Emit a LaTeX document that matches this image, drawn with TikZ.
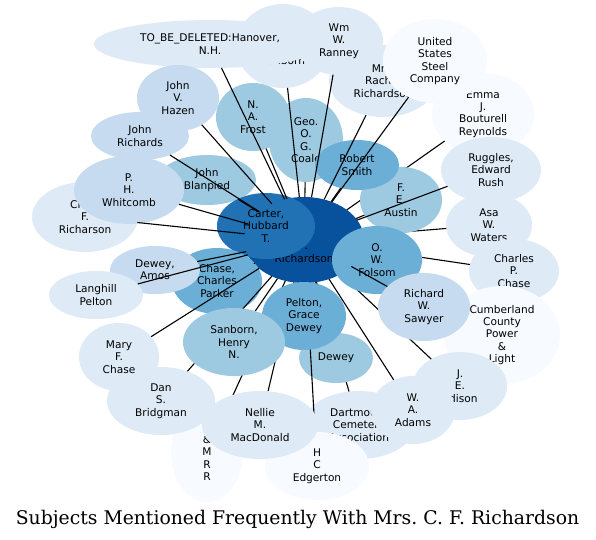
\documentclass[tikz,border=0pt]{standalone}
\usepackage{fontspec}
\usetikzlibrary{shapes.geometric}
\newfontfamily\nodefont{DejaVu Sans}
\newfontfamily\titlefont{DejaVu Serif}
\definecolor{bA}{HTML}{F7FBFF}
\definecolor{bB}{HTML}{DEEBF7}
\definecolor{bC}{HTML}{C6DBEF}
\definecolor{bD}{HTML}{9ECAE1}
\definecolor{bE}{HTML}{6BAED6}
\definecolor{bF}{HTML}{2171B5}
\definecolor{bG}{HTML}{08519C}
\pgfdeclarelayer{lone}
\pgfdeclarelayer{ltwo}
\pgfdeclarelayer{lthree}
\pgfdeclarelayer{lfour}
\pgfdeclarelayer{lfive}
\pgfsetlayers{lone,ltwo,lthree,lfour,lfive,main}
\tikzset{
  ellnode/.style={ellipse, inner sep=0pt, outer sep=0pt, align=center, draw=none, text=black,
    font=\nodefont\fontsize{10.6pt}{12.4pt}\selectfont},
  link/.style={draw=black, line width=1.1pt},
  titletext/.style={font=\titlefont\fontsize{18.8pt}{22pt}\selectfont, inner sep=0pt, anchor=base}
}
\newcommand\ENT[7]{\node[ellnode, fill=#2, minimum width=#5*2pt, minimum height=#6*2pt] (#1) at (#3,#4) {#7};}
\begin{document}
\begin{tikzpicture}[x=1pt,y=-1pt]
\useasboundingbox (0,0) rectangle (596,539);
\begin{pgfonlayer}{lone}
\fill[white] (0,0) rectangle (596,539);
\ENT{sanT}{bB}{283}{46}{47}{42}{~\\~\\~\\Sanborn}
\ENT{hanover}{bB}{210}{44}{116}{24}{TO\_BE\_DELETED:Hanover,\\N.H.}
\ENT{rachel}{bB}{383}{81}{54}{36}{Mrs.\\Rachel\\Richardson}
\ENT{ranney}{bB}{339}{41}{44}{34}{Wm\\W.\\Ranney}
\ENT{emma}{bA}{483}{114}{51}{41}{Emma\\J.\\Bouturell\\Reynolds}
\ENT{steel}{bA}{435}{61}{52}{42}{United\\States\\Steel\\Company}
\ENT{ruggles}{bB}{491}{170}{50}{33}{Ruggles,\\Edward\\Rush}
\ENT{asa}{bB}{489}{225}{43}{32}{Asa\\W.\\Waters}
\ENT{cchase}{bB}{514}{271}{45}{32}{Charles\\P.\\Chase}
\ENT{cumb}{bA}{502}{335}{58}{49}{Cumberland\\County\\Power\\\&\\Light}
\ENT{edison}{bB}{460}{386}{47}{34}{J.\\E.\\Edison}
\ENT{dart}{bB}{359}{425}{56}{34}{Dartmouth\\Cemetery\\Association}
\ENT{edger}{bA}{317}{466}{52}{34}{H\\C\\Edgerton}
\ENT{adams}{bB}{413}{410}{42}{34}{W.\\A.\\Adams}
\ENT{bmrr}{bA}{207}{452}{36}{50}{B\\\&\\M\\R\\R}
\ENT{dan}{bB}{161}{401}{54}{34}{Dan\\S.\\Bridgman}
\ENT{mary}{bB}{119}{357}{40}{34}{Mary\\F.\\Chase}
\ENT{chas}{bB}{85}{217}{53}{35}{Chas.\\F.\\Richarson}
\ENT{jrich}{bC}{140}{136}{49}{24}{John\\Richards}
\ENT{hazen}{bC}{178}{98}{41}{33}{John\\V.\\Hazen}
\ENT{blan}{bD}{207}{180}{49}{25}{John\\Blanpied}
\ENT{whit}{bC}{129}{190}{55}{34}{P.\\H.\\Whitcomb}
\ENT{frost}{bD}{253}{117}{37}{34}{N.\\A.\\Frost}
\ENT{coale}{bD}{306}{140}{37}{42}{Geo.\\O.\\G.\\Coale}
\ENT{rich}{bG}{304}{240}{60}{43}{Mrs.\\C.\\F.\\Richardson}
\ENT{carter}{bF}{266}{226}{49}{33}{Carter,\\Hubbard\\T.}
\ENT{cparker}{bE}{217}{281}{45}{33}{Chase,\\Charles\\Parker}
\ENT{damos}{bC}{155}{270}{45}{24}{Dewey,\\Amos}
\ENT{lang}{bB}{96}{295}{47}{24}{Langhill\\Pelton}
\end{pgfonlayer}
\begin{pgfonlayer}{lthree}
\ENT{austin}{bD}{401}{200}{41}{33}{F.\\E.\\Austin}
\ENT{rsmith}{bE}{357}{165}{42}{25}{Robert\\Smith}
\ENT{folsom}{bE}{377}{260}{45}{34}{O.\\W.\\Folsom}
\ENT{sawyer}{bC}{424}{307}{46}{34}{Richard\\W.\\Sawyer}
\ENT{dewey}{bD}{336}{358}{37}{25}{Dewey}
\end{pgfonlayer}
\begin{pgfonlayer}{lfive}
\ENT{nellie}{bB}{260}{425}{58}{34}{Nellie\\M.\\MacDonald}
\ENT{pelton}{bE}{304}{316}{42}{34}{Pelton,\\Grace\\Dewey}
\ENT{sanH}{bD}{234}{342}{51}{34}{Sanborn,\\Henry\\N.}
\end{pgfonlayer}
\begin{pgfonlayer}{ltwo}
\foreach \n in {emma,asa,cchase,cumb,edison,dart}
  \draw[link] (\n) -- (rich);
\end{pgfonlayer}
\begin{pgfonlayer}{lfour}
\foreach \n in {hanover,sanT,ranney,rachel,steel,ruggles,austin,rsmith,coale,frost,hazen,jrich,blan,whit,chas,damos,lang,cparker,mary,dan,bmrr,nellie,edger,adams,sawyer,dewey,sanH,pelton}
  \draw[link] (\n) -- (rich);
\end{pgfonlayer}
\node[titletext] (title) at (297.5,524) {Subjects Mentioned Frequently With Mrs.\ C.\ F.\ Richardson};
\end{tikzpicture}
\end{document}
